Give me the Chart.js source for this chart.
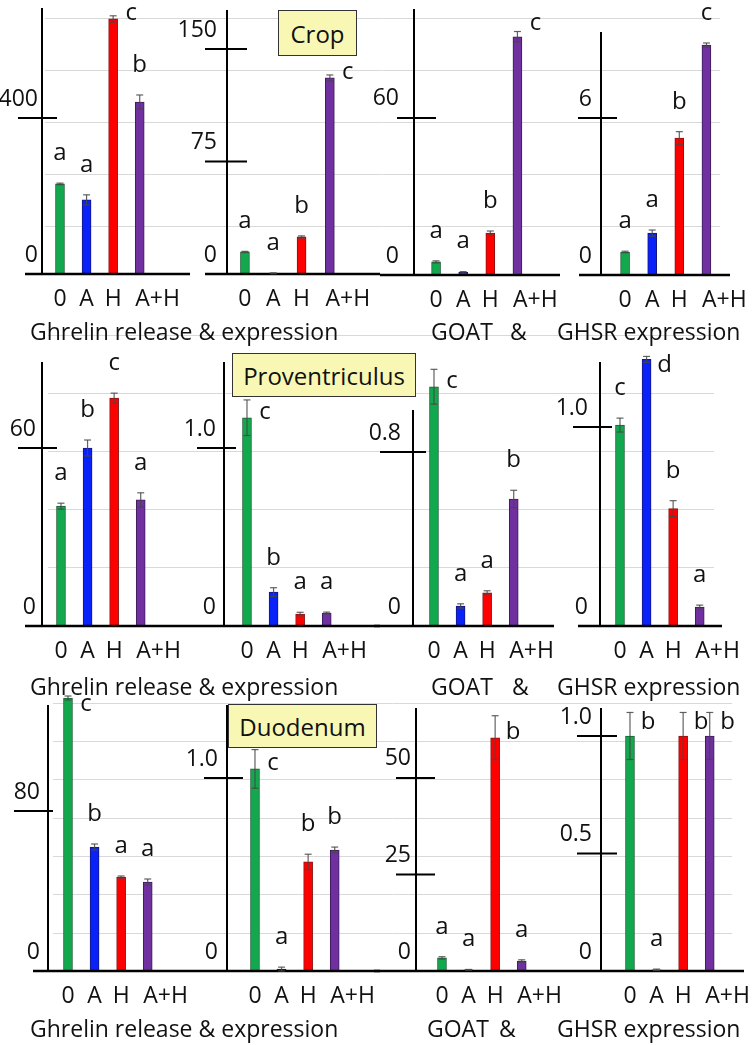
<!DOCTYPE html>
<html>
<head>
<meta charset="utf-8">
<script src="https://cdn.jsdelivr.net/npm/chart.js@4.4.0/dist/chart.umd.min.js"></script>
<style>
  html, body { margin: 0; padding: 0; background: #fff; }
  #fig { position: relative; width: 754px; height: 1045px; overflow: hidden; font-family: 'Open Sans', sans-serif; color: #111; }
  .layer { position: absolute; }
  .box { position: absolute; background: #f8f8b4; border: 1.5px solid #333; box-sizing: border-box;
         display: flex; align-items: center; justify-content: center; font-size: 24px; }
  .cap { position: absolute; font-size: 23px; line-height: 24px; white-space: pre; }
</style>
</head>
<body>
<div id="fig"></div>
<script>
// treatments
const categories = ['0', 'A', 'H', 'A+H'];

// Crop
const cropRelease = [231, 190, 654, 441];
const cropReleaseErr = [2, 13, 8, 18];
const cropReleaseSig = ['a', 'a', 'c', 'b'];
const cropReleaseTicks = ['0', '400'];

const cropExpr = [14.7, 0.5, 24.7, 130.7];
const cropExprErr = [0.4, 0.3, 0.7, 2];
const cropExprSig = ['a', 'a', 'b', 'c'];
const cropExprTicks = ['0', '75', '150'];

const cropGoat = [5, 1, 16, 91];
const cropGoatErr = [0.4, 0.3, 0.8, 2];
const cropGoatSig = ['a', 'a', 'b', 'c'];
const cropGoatTicks = ['0', '60'];

const cropGhsr = [0.88, 1.6, 5.23, 8.79];
const cropGhsrErr = [0.03, 0.12, 0.25, 0.08];
const cropGhsrSig = ['a', 'a', 'b', 'c'];
const cropGhsrTicks = ['0', '6'];

// Proventriculus
const provRelease = [40.4, 60, 76.8, 42.5];
const provReleaseErr = [1, 2.7, 1.7, 2.4];
const provReleaseSig = ['a', 'b', 'c', 'a'];
const provReleaseTicks = ['0', '60'];

const provExpr = [1.17, 0.19, 0.067, 0.073];
const provExprErr = [0.1, 0.025, 0.01, 0.005];
const provExprSig = ['c', 'b', 'a', 'a'];
const provExprTicks = ['0', '1.0'];

const provGoat = [1.10, 0.092, 0.152, 0.584];
const provGoatErr = [0.08, 0.01, 0.01, 0.04];
const provGoatSig = ['c', 'a', 'a', 'b'];
const provGoatTicks = ['0', '0.8'];

const provGhsr = [1.01, 1.34, 0.59, 0.095];
const provGhsrErr = [0.035, 0.015, 0.04, 0.01];
const provGhsrSig = ['c', 'd', 'b', 'a'];
const provGhsrTicks = ['0', '1.0'];

// Duodenum
const duoRelease = [136.5, 62, 47, 44.5];
const duoReleaseErr = [1, 1.5, 0.5, 1.5];
const duoReleaseSig = ['c', 'b', 'a', 'a'];
const duoReleaseTicks = ['0', '80'];

const duoExpr = [1.047, 0.01, 0.565, 0.627];
const duoExprErr = [0.1, 0.01, 0.04, 0.015];
const duoExprSig = ['c', 'a', 'b', 'b'];
const duoExprTicks = ['0', '1.0'];

const duoGoat = [3.4, 0.3, 60.4, 2.6];
const duoGoatErr = [0.3, 0.1, 5.7, 0.3];
const duoGoatSig = ['a', 'a', 'b', 'a'];
const duoGoatTicks = ['0', '25', '50'];

const duoGhsr = [1.0, 0.005, 1.0, 1.0];
const duoGhsrErr = [0.1, 0.003, 0.1, 0.1];
const duoGhsrSig = ['b', 'a', 'b', 'b'];
const duoGhsrTicks = ['0', '0.5', '1.0'];

const barFill = ['#12a84e', '#0a22fa', '#ff0000', '#7030a0'];
const barEdge = ['#1d5e35', '#16167a', '#8a1212', '#3b1c58'];

// letter placement: up = above error bar, right = beside bar top (rightUp / rightDown shift it)
const letterDy = { right: -6, rightUp: -14, rightDown: 6 };

const panels = [
  { v: cropRelease, e: cropReleaseErr, sig: cropReleaseSig, ticks: cropReleaseTicks,
    axisX: 42, axisTop: 8, baseY: 274, yMax: 682, inset: 4.7, plotW: 106.7, extL: 17, extR: 37, tickL: 24, tickR: 15, labelPad: 4, place: ['up', 'up', 'right', 'up'] },
  { v: cropExpr, e: cropExprErr, sig: cropExprSig, ticks: cropExprTicks,
    axisX: 227, axisTop: 10, baseY: 274, yMax: 176, inset: 3.8, plotW: 113, extL: 22, extR: 36, tickL: 22, tickR: 20, labelPad: 10, place: ['up', 'up', 'up', 'right'] },
  { v: cropGoat, e: cropGoatErr, sig: cropGoatSig, ticks: cropGoatTicks,
    axisX: 414, axisTop: 9, baseY: 275, yMax: 101.6, inset: 8.5, plotW: 108, extL: 34, extR: 29, tickL: 17, tickR: 22, labelPad: 15, place: ['up', 'up', 'up', 'rightUp'] },
  { v: cropGhsr, e: cropGhsrErr, sig: cropGhsrSig, ticks: cropGhsrTicks,
    axisX: 601, axisTop: 32, baseY: 275, yMax: 9.29, inset: 10.5, plotW: 108, extL: 22, extR: 10, tickL: 23, tickR: 16, labelPad: 9, place: ['up', 'up', 'up', 'up'] },

  { v: provRelease, e: provReleaseErr, sig: provReleaseSig, ticks: provReleaseTicks,
    axisX: 42, axisTop: 362, baseY: 626, yMax: 89, inset: 5.7, plotW: 106.7, extL: 17, extR: 36, tickL: 24, tickR: 15, labelPad: 6, place: ['up', 'up', 'up', 'up'] },
  { v: provExpr, e: provExprErr, sig: provExprSig, ticks: provExprTicks,
    axisX: 224, axisTop: 362, baseY: 626, yMax: 1.483, inset: 9.7, plotW: 106.7, extL: 34, extR: 40, tickL: 27, tickR: 12, labelPad: 8, place: ['right', 'up', 'up', 'up'] },
  { v: provGoat, e: provGoatErr, sig: provGoatSig, ticks: provGoatTicks,
    axisX: 413, axisTop: 410, baseY: 626, yMax: 0.993, inset: 7.7, plotW: 106.7, extL: 39, extR: 27, tickL: 33, tickR: 13, labelPad: 12, place: ['right', 'up', 'up', 'up'] },
  { v: provGhsr, e: provGhsrErr, sig: provGhsrSig, ticks: provGhsrTicks,
    axisX: 600, axisTop: 362, baseY: 626, yMax: 1.327, inset: 6.7, plotW: 106.7, extL: 22, extR: 9, tickL: 27, tickR: 12, labelPad: 12, place: ['up', 'rightDown', 'up', 'up'] },

  { v: duoRelease, e: duoReleaseErr, sig: duoReleaseSig, ticks: duoReleaseTicks,
    axisX: 48, axisTop: 705, baseY: 971, yMax: 133, inset: 6.7, plotW: 106.7, extL: 15, extR: 39, tickL: 34, tickR: 5, labelPad: 8, place: ['rightDown', 'up', 'up', 'up'] },
  { v: duoExpr, e: duoExprErr, sig: duoExprSig, ticks: duoExprTicks,
    axisX: 227, axisTop: 705, baseY: 971, yMax: 1.378, inset: 14.7, plotW: 106.7, extL: 27, extR: 32, tickL: 23, tickR: 16, labelPad: 9, place: ['right', 'up', 'up', 'up'] },
  { v: duoGoat, e: duoGoatErr, sig: duoGoatSig, ticks: duoGoatTicks,
    axisX: 416, axisTop: 708, baseY: 971, yMax: 68.1, inset: 12.7, plotW: 106.7, extL: 42, extR: 65, tickL: 20, tickR: 19, labelPad: 5, place: ['up', 'up', 'right', 'up'] },
  { v: duoGhsr, e: duoGhsrErr, sig: duoGhsrSig, ticks: duoGhsrTicks,
    axisX: 601, axisTop: 708, baseY: 971, yMax: 1.119, inset: 15.7, plotW: 106.7, extL: 1, extR: 21, tickL: 24, tickR: 16, labelPad: 9, place: ['rightUp', 'up', 'rightUp', 'rightUp'] },
];

const gridRows = [
  { top: 18, step: 52, n: 4, left: 45, right: 720 },
  { top: 335, step: 58, n: 4, left: 48, right: 714 },
  { top: 703, step: 38.3, n: 6, left: 53, right: 732 },
];

const boxes = [
  { text: 'Crop', left: 278, top: 10, w: 79, h: 46 },
  { text: 'Proventriculus', left: 232, top: 353, w: 184, h: 44 },
  { text: 'Duodenum', left: 228, top: 704, w: 149, h: 44 },
];

const captions = [
  { text: 'Ghrelin release & expression', left: 30, cy: 331 },
  { text: 'GOAT', left: 431, cy: 331 }, { text: '&', left: 510, cy: 331 }, { text: 'GHSR expression', left: 557, cy: 331 },
  { text: 'Ghrelin release & expression', left: 30, cy: 686 },
  { text: 'GOAT', left: 431, cy: 686 }, { text: '&', left: 512, cy: 686 }, { text: 'GHSR expression', left: 557, cy: 686 },
  { text: 'Ghrelin release & expression', left: 30, cy: 1028 },
  { text: 'GOAT', left: 427, cy: 1028 }, { text: '&', left: 499, cy: 1028 }, { text: 'GHSR expression', left: 557, cy: 1028 },
];

const fig = document.getElementById('fig');
const font = { family: "'Open Sans', sans-serif", size: 23 };

function addCanvas(left, top, w, h) {
  const cv = document.createElement('canvas');
  cv.className = 'layer';
  cv.width = w; cv.height = h;
  cv.style.left = left + 'px'; cv.style.top = top + 'px';
  cv.style.width = w + 'px'; cv.style.height = h + 'px';
  fig.appendChild(cv);
  return cv;
}

// faint background gridlines behind each row
gridRows.forEach(r => {
  const cv = addCanvas(r.left, r.top - 1, r.right - r.left, Math.round(r.n * r.step) + 2);
  new Chart(cv, {
    type: 'line',
    data: { labels: [], datasets: [] },
    options: {
      responsive: false, animation: false,
      layout: { padding: { top: 1, bottom: 1 } },
      plugins: { legend: { display: false }, tooltip: { enabled: false } },
      scales: {
        x: { display: false },
        y: { min: 0, max: r.n, ticks: { display: false, stepSize: 1 },
             grid: { color: '#d9d9d9', drawTicks: false }, border: { display: false } },
      },
    },
  });
});

// axes, crossing ticks, error bars and significance letters
const figurePlugin = {
  id: 'figure',
  afterDatasetsDraw(chart, args, opts) {
    const p = opts.panel;
    const ds = chart.data.datasets[0];
    const { ctx, chartArea: a } = chart;
    const y = chart.scales.y;
    const axisX = a.left - p.inset;
    const seg = (x1, y1, x2, y2) => { ctx.beginPath(); ctx.moveTo(x1, y1); ctx.lineTo(x2, y2); ctx.stroke(); };
    ctx.save();
    ctx.strokeStyle = '#000';
    ctx.lineWidth = 2;
    seg(axisX, a.top, axisX, a.bottom);
    y.ticks.forEach(t => {
      if (t.value === 0) return;
      const py = y.getPixelForValue(t.value);
      seg(axisX - p.tickL, py, axisX + p.tickR, py);
    });
    ctx.lineWidth = 2.5;
    seg(axisX - p.extL, a.bottom, a.right + p.extR, a.bottom);

    const meta = chart.getDatasetMeta(0);
    ctx.strokeStyle = 'rgba(70,70,70,0.85)';
    ctx.lineWidth = 1.2;
    meta.data.forEach((bar, i) => {
      const v = ds.data[i], e = ds.errors[i];
      const hi = y.getPixelForValue(v + e);
      const lo = y.getPixelForValue(Math.max(v - e, 0));
      seg(bar.x, lo, bar.x, hi);
      seg(bar.x - 3.5, hi, bar.x + 3.5, hi);
      seg(bar.x - 3.5, lo, bar.x + 3.5, lo);
    });

    ctx.fillStyle = '#111';
    ctx.font = "24px 'Open Sans', sans-serif";
    ctx.textAlign = 'center';
    ctx.textBaseline = 'middle';
    meta.data.forEach((bar, i) => {
      const v = ds.data[i], e = ds.errors[i];
      const place = p.place[i];
      if (place === 'up') {
        ctx.fillText(ds.sig[i], bar.x, y.getPixelForValue(v + e) - 30);
      } else {
        ctx.fillText(ds.sig[i], bar.x + 18, y.getPixelForValue(v) + letterDy[place]);
      }
    });
    ctx.restore();
  },
};

const yW = 70, xH = 50, topPad = 50;

panels.forEach(p => {
  const padR = Math.max(p.extR + 5, 45);
  const left = p.axisX - yW;
  const top = p.axisTop - topPad;
  const w = Math.round(yW + p.inset + p.plotW + padR);
  const h = Math.round(p.baseY - top + xH);
  const cv = addCanvas(left, top, w, h);
  const tickVals = p.ticks.map(Number);
  new Chart(cv, {
    type: 'bar',
    data: {
      labels: categories,
      datasets: [{
        data: p.v,
        errors: p.e,
        sig: p.sig,
        backgroundColor: barFill,
        borderColor: barEdge,
        borderWidth: 1,
        barThickness: 9,
        clip: false,
      }],
    },
    options: {
      responsive: false,
      animation: false,
      layout: { padding: { top: topPad, right: padR, left: 0, bottom: 0 } },
      plugins: { legend: { display: false }, tooltip: { enabled: false }, figure: { panel: p } },
      scales: {
        x: {
          type: 'category',
          offset: true,
          grid: { display: false, drawTicks: false },
          border: { display: false },
          ticks: {
            font, color: '#111', padding: 12, maxRotation: 0, autoSkip: false,
            callback(value, index) {
              const lab = this.getLabelForValue(value);
              return index === 3 ? '      ' + lab : lab;
            },
          },
          afterFit(s) { s.height = xH; },
        },
        y: {
          type: 'linear',
          min: 0,
          max: p.yMax,
          grid: { display: false, drawTicks: false },
          border: { display: false },
          ticks: {
            font, color: '#111', padding: p.inset + p.labelPad, labelOffset: -19,
            callback(value, index) { return p.ticks[index]; },
          },
          afterBuildTicks(s) { s.ticks = tickVals.map(v => ({ value: v })); },
          afterFit(s) { s.width = yW + p.inset; },
        },
      },
    },
    plugins: [figurePlugin],
  });
});

boxes.forEach(b => {
  const d = document.createElement('div');
  d.className = 'box';
  d.textContent = b.text;
  Object.assign(d.style, { left: b.left + 'px', top: b.top + 'px', width: b.w + 'px', height: b.h + 'px' });
  fig.appendChild(d);
});

captions.forEach(c => {
  const d = document.createElement('div');
  d.className = 'cap';
  d.textContent = c.text;
  d.style.left = c.left + 'px';
  d.style.top = (c.cy - 12) + 'px';
  fig.appendChild(d);
});
</script>
</body>
</html>
